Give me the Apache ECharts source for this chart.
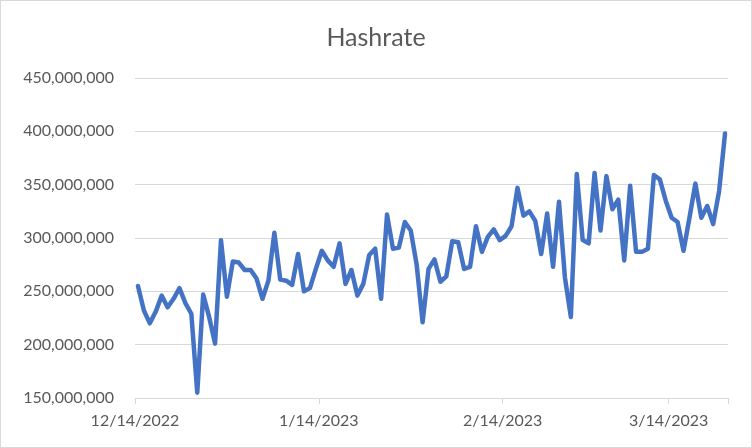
<!DOCTYPE html>
<html>
<head>
<meta charset="utf-8">
<script src="https://cdn.jsdelivr.net/npm/echarts@6/dist/echarts.min.js"></script>
<style>
html,body{margin:0;padding:0;background:#fff;}
#chart{width:752px;height:448px;box-sizing:border-box;border:1px solid #d9d9d9;}
</style>
</head>
<body>
<div id="chart"></div>
<script>
const titleText = 'Hashrate';

const dates = [
  '12/14/2022','12/15/2022','12/16/2022','12/17/2022','12/18/2022','12/19/2022','12/20/2022','12/21/2022','12/22/2022','12/23/2022',
  '12/24/2022','12/25/2022','12/26/2022','12/27/2022','12/28/2022','12/29/2022','12/30/2022','12/31/2022',
  '1/1/2023','1/2/2023','1/3/2023','1/4/2023','1/5/2023','1/6/2023','1/7/2023','1/8/2023','1/9/2023','1/10/2023',
  '1/11/2023','1/12/2023','1/13/2023','1/14/2023','1/15/2023','1/16/2023','1/17/2023','1/18/2023','1/19/2023','1/20/2023',
  '1/21/2023','1/22/2023','1/23/2023','1/24/2023','1/25/2023','1/26/2023','1/27/2023','1/28/2023','1/29/2023','1/30/2023','1/31/2023',
  '2/1/2023','2/2/2023','2/3/2023','2/4/2023','2/5/2023','2/6/2023','2/7/2023','2/8/2023','2/9/2023','2/10/2023',
  '2/11/2023','2/12/2023','2/13/2023','2/14/2023','2/15/2023','2/16/2023','2/17/2023','2/18/2023','2/19/2023','2/20/2023',
  '2/21/2023','2/22/2023','2/23/2023','2/24/2023','2/25/2023','2/26/2023','2/27/2023','2/28/2023',
  '3/1/2023','3/2/2023','3/3/2023','3/4/2023','3/5/2023','3/6/2023','3/7/2023','3/8/2023','3/9/2023','3/10/2023',
  '3/11/2023','3/12/2023','3/13/2023','3/14/2023','3/15/2023','3/16/2023','3/17/2023','3/18/2023','3/19/2023','3/20/2023',
  '3/21/2023','3/22/2023','3/23/2023'
];

const hashrate = [
  255000000, 232000000, 220000000, 231000000, 246000000, 235000000, 243000000, 253000000, 239000000, 229000000,
  155000000, 247000000, 226000000, 201000000, 298000000, 245000000, 278000000, 277000000, 270000000, 270000000,
  262000000, 243000000, 260000000, 305000000, 261000000, 260000000, 256000000, 285000000, 250000000, 253000000,
  271000000, 288000000, 279000000, 273000000, 295000000, 257000000, 270000000, 246000000, 257000000, 284000000,
  290000000, 243000000, 322000000, 290000000, 291000000, 315000000, 307000000, 275000000, 221000000, 271000000,
  280000000, 259000000, 264000000, 297000000, 296000000, 271000000, 273000000, 311000000, 287000000, 301000000,
  308000000, 298000000, 302000000, 311000000, 347000000, 321000000, 325000000, 316000000, 285000000, 323000000,
  273000000, 334000000, 263000000, 226000000, 360000000, 298000000, 295000000, 361000000, 307000000, 358000000,
  327000000, 336000000, 279000000, 349000000, 287000000, 287000000, 290000000, 359000000, 355000000, 335000000,
  319000000, 315000000, 288000000, 319000000, 351000000, 319000000, 330000000, 313000000, 344000000, 398000000
];

const xTickLabels = ['12/14/2022', '1/14/2023', '2/14/2023', '3/14/2023'];

const yMin = 150000000, yMax = 450000000, yStep = 50000000;

const chart = echarts.init(document.getElementById('chart'), null, {renderer: 'canvas'});
const font = 'Lato, "Liberation Sans", sans-serif';
const showTick = (idx) => xTickLabels.indexOf(dates[idx]) >= 0;

chart.setOption({
  animation: false,
  backgroundColor: '#ffffff',
  title: {
    text: titleText,
    left: 'center',
    top: 19,
    textStyle: {fontFamily: font, fontSize: 25, fontWeight: 'normal', color: '#595959'}
  },
  grid: {left: 134, right: 23, top: 77, bottom: 49},
  xAxis: {
    type: 'category',
    data: dates,
    boundaryGap: true,
    axisLine: {show: true, lineStyle: {color: '#d9d9d9', width: 1}},
    axisTick: {show: true, length: 6, interval: (idx) => showTick(idx), lineStyle: {color: '#d9d9d9'}},
    axisLabel: {
      interval: (idx) => showTick(idx),
      margin: 15,
      color: '#595959',
      fontFamily: font,
      fontSize: 16,
      formatter: (v) => '{a|' + v + '}',
      rich: {a: {fontFamily: font, fontSize: 16, color: '#595959', padding: [0, 6, 0, 0]}}
    },
    splitLine: {show: false}
  },
  yAxis: {
    type: 'value',
    min: yMin,
    max: yMax,
    interval: yStep,
    axisLine: {show: false},
    axisTick: {show: false},
    axisLabel: {
      margin: 21,
      color: '#595959',
      fontFamily: font,
      fontSize: 16,
      formatter: (v) => v.toLocaleString('en-US')
    },
    splitLine: {show: true, lineStyle: {color: '#d9d9d9', width: 1}}
  },
  series: [{
    type: 'line',
    data: hashrate,
    showSymbol: false,
    symbol: 'none',
    lineStyle: {color: '#4472C4', width: 4.5, cap: 'round', join: 'round'},
    itemStyle: {color: '#4472C4'}
  }]
});
</script>
</body>
</html>
